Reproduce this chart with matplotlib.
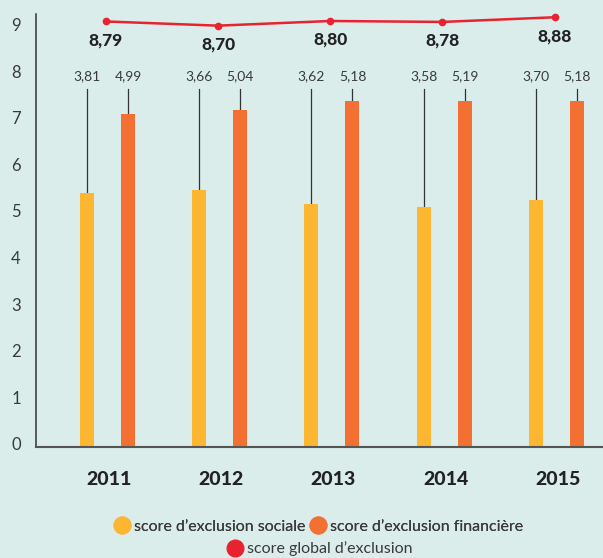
import matplotlib
matplotlib.use("Agg")
import matplotlib.pyplot as plt
import matplotlib.transforms as mtransforms
from matplotlib.lines import Line2D

# ---- data ----
years = ["2011", "2012", "2013", "2014", "2015"]
social_labels = [3.81, 3.66, 3.62, 3.58, 3.70]
financial_labels = [4.99, 5.04, 5.18, 5.19, 5.18]
global_scores = [8.79, 8.70, 8.80, 8.78, 8.88]
# bar heights as drawn on the chart's 0-9 axis
social_bar_heights = [5.46, 5.52, 5.22, 5.15, 5.31]
financial_bar_heights = [7.15, 7.22, 7.43, 7.43, 7.43]
yticks = [0, 1, 2, 3, 4, 5, 6, 7, 8, 9]

BG = "#DAEDEB"
YELLOW = "#FDB632"
ORANGE = "#F37032"
RED = "#E8232F"
FONT = "Lato"

plt.rcParams["font.family"] = [FONT, "DejaVu Sans"]

fig = plt.figure(figsize=(6.03, 5.58), dpi=100, facecolor=BG)
ax = fig.add_axes([36 / 603, 1 - 447 / 558, 1 - 36 / 603, (447 - 14) / 558])
ax.set_facecolor(BG)

x = list(range(len(years)))
off = 0.183
w = 0.125
xs = [i - off for i in x]
xf = [i + off for i in x]

ax.bar(xs, social_bar_heights, width=w, color=YELLOW, zorder=2)
ax.bar(xf, financial_bar_heights, width=w, color=ORANGE, zorder=2)

label_line_top = 7.68
label_y = 7.95
for xi, h, v in zip(xs, social_bar_heights, social_labels):
    ax.plot([xi, xi], [h, label_line_top], color="#333333", lw=0.9, zorder=1)
    ax.text(xi, label_y, f"{v:.2f}".replace(".", ","), ha="center", va="center",
            fontsize=10, color="#3a3a3a")
for xi, h, v in zip(xf, financial_bar_heights, financial_labels):
    ax.plot([xi, xi], [h, label_line_top], color="#333333", lw=0.9, zorder=1)
    ax.text(xi, label_y, f"{v:.2f}".replace(".", ","), ha="center", va="center",
            fontsize=10, color="#3a3a3a")

ymax = 9.29
ax.set_ylim(0, ymax)
ax.set_xlim(-0.637, 4.416)

# line on twin axis
ax2 = ax.twinx()
ax2.set_ylim(-0.34, ymax - 0.34)
ax2.axis("off")
xl = [i - 0.015 for i in x]
ax2.plot(xl, global_scores, color=RED, lw=1.8, marker="o", markersize=4.5, zorder=3,
         clip_on=False)
for xi, v in zip(xl, global_scores):
    ax2.annotate(f"{v:.2f}".replace(".", ","), (xi, v), xytext=(0, -13.5),
                 textcoords="offset points", ha="center", va="center",
                 fontsize=12.5, fontweight="black", color="#222222")

# axes styling
ax.set_yticks(yticks)
ax.set_yticklabels([str(t) for t in yticks], fontsize=12, color="#3a3a3a")
ax.tick_params(axis="y", length=0, pad=11)
shift = mtransforms.ScaledTranslation(0, 3 / 100, fig.dpi_scale_trans)
for lbl in ax.get_yticklabels():
    lbl.set_transform(lbl.get_transform() + shift)

ax.set_xticks([i + 0.013 for i in x])
ax.set_xticklabels(years, fontsize=14, fontweight="black", color="#222222")
ax.tick_params(axis="x", length=0, pad=17)

for s in ["top", "right"]:
    ax.spines[s].set_visible(False)
ax.spines["left"].set_color("#333333")
ax.spines["left"].set_linewidth(1.1)
ax.spines["bottom"].set_color("#555555")
ax.spines["bottom"].set_linewidth(1.5)

# legend
h1 = Line2D([], [], ls="none", marker="o", markersize=12, color=YELLOW)
h2 = Line2D([], [], ls="none", marker="o", markersize=12, color=ORANGE)
h3 = Line2D([], [], ls="none", marker="o", markersize=12, color=RED)
leg1 = fig.legend([h1, h2], ["score d\u2019exclusion sociale", "score d\u2019exclusion financi\u00e8re"],
                  loc="center", bbox_to_anchor=(319 / 603, 1 - 527 / 558), ncol=2,
                  frameon=False, handlelength=0.9, handletextpad=0.3, columnspacing=0.3,
                  prop={"size": 11.5, "family": FONT}, labelcolor="#3a3a3a", borderpad=0)
fig.add_artist(leg1)
leg2 = fig.legend([h3], ["score global d\u2019exclusion"],
                  loc="center", bbox_to_anchor=(320 / 603, 1 - 549 / 558), ncol=1,
                  frameon=False, handlelength=0.9, handletextpad=0.3,
                  prop={"size": 11.5, "family": FONT}, labelcolor="#3a3a3a", borderpad=0)

fig.savefig("out.png", dpi=100, facecolor=BG)
